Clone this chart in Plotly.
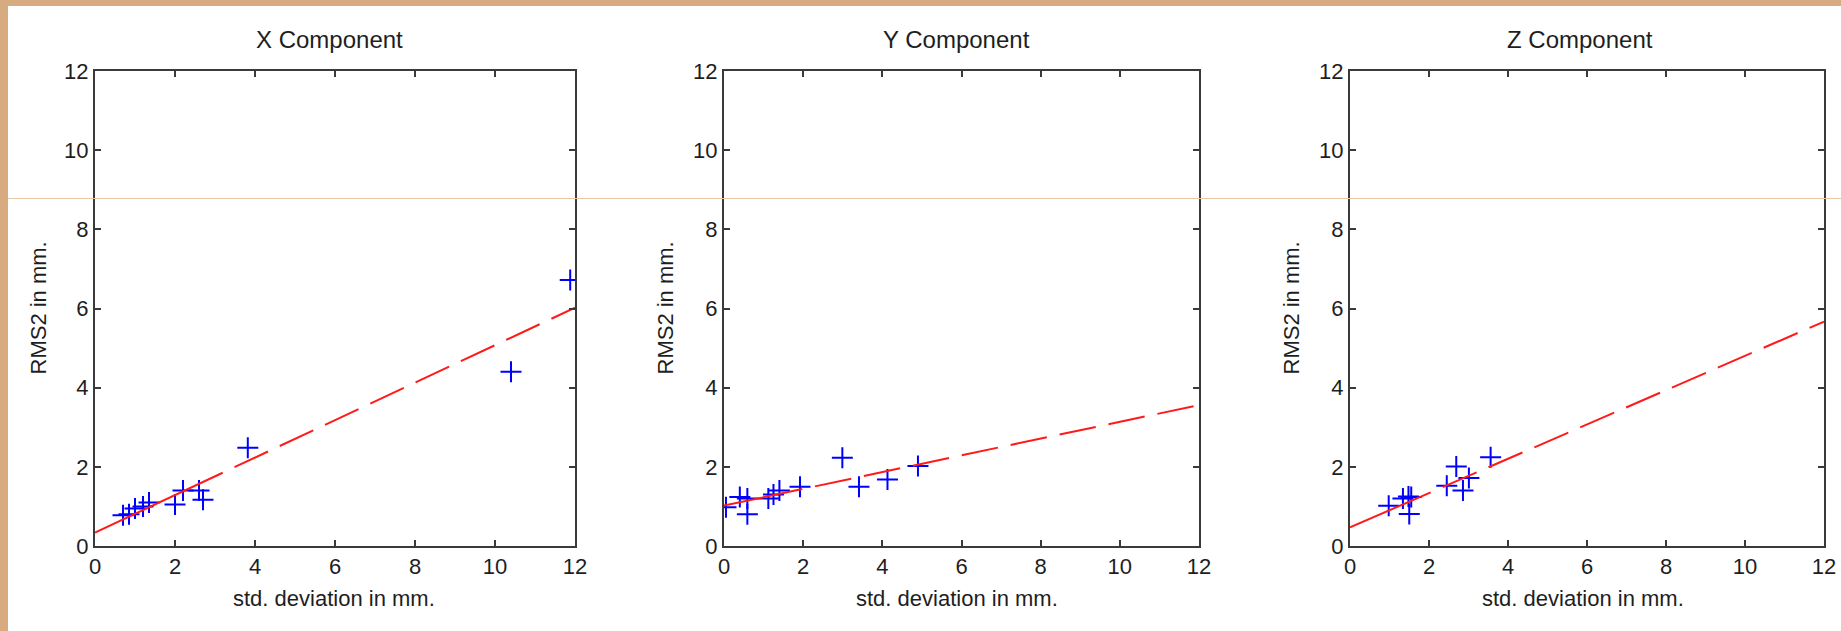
import plotly.graph_objects as go

W, H = 1841, 631

# ---------------- data ----------------
titles = ["X Component", "Y Component", "Z Component"]
x_label = "std. deviation in mm."
y_label = "RMS2 in mm."
tick_vals = [0, 2, 4, 6, 8, 10, 12]

x_std = [0.70, 0.85, 1.00, 1.20, 1.35, 2.00, 2.20, 2.60, 2.70, 3.82, 10.40, 11.88]
x_rms = [0.78, 0.80, 0.95, 1.00, 1.10, 1.05, 1.40, 1.40, 1.17, 2.48, 4.40, 6.72]

y_std = [0.05, 0.40, 0.59, 0.59, 1.12, 1.25, 1.40, 1.92, 2.99, 3.41, 4.13, 4.90]
y_rms = [0.98, 1.24, 1.20, 0.80, 1.20, 1.30, 1.40, 1.50, 2.23, 1.50, 1.68, 2.02]

z_std = [0.98, 1.34, 1.48, 1.55, 1.50, 2.45, 2.69, 2.86, 3.01, 3.56]
z_rms = [1.02, 1.20, 1.25, 1.24, 0.81, 1.52, 2.01, 1.40, 1.72, 2.24]

fit_x = [0, 12]
x_fit = [0.34, 6.02]
y_fit = [1.02, 3.56]
z_fit = [0.47, 5.67]

# ---------------- layout helpers ----------------
def fx(p):
    return p / W

def fy(p):
    return 1 - p / H

panels = [
    dict(l=95, r=575, sx=x_std, sy=x_rms, fit=x_fit, first=141, title_x=329, xt_x=334, yt_x=38),
    dict(l=724, r=1199, sx=y_std, sy=y_rms, fit=y_fit, first=80, title_x=956, xt_x=957, yt_x=665),
    dict(l=1350, r=1824, sx=z_std, sy=z_rms, fit=z_fit, first=88, title_x=1580, xt_x=1583, yt_x=1291),
]
TOP, BOT = 71, 546

FONT = "Liberation Sans, Arial, Helvetica, sans-serif"
TXT = "#1e1e1e"
AX = "#3a3a3a"

def dash_pattern(first, dash=37, gap=13, n=14):
    parts = [f"{first}px", f"{gap}px"]
    for _ in range(n):
        parts += [f"{dash}px", f"{gap}px"]
    return ",".join(parts)

fig = go.Figure()
annotations = []
layout_axes = {}

for i, p in enumerate(panels, start=1):
    sfx = "" if i == 1 else str(i)
    xa, ya = "x" + sfx, "y" + sfx
    fig.add_trace(go.Scatter(
        x=p["sx"], y=p["sy"], mode="markers", xaxis=xa, yaxis=ya,
        marker=dict(symbol="cross-thin", size=15, color="#0000ff",
                    line=dict(width=2, color="#0000ff")),
        showlegend=False, hoverinfo="x+y"))
    fig.add_trace(go.Scatter(
        x=fit_x, y=p["fit"], mode="lines", xaxis=xa, yaxis=ya,
        line=dict(color="#ff1a1a", width=2, dash=dash_pattern(p["first"])),
        showlegend=False, hoverinfo="skip"))

    common = dict(range=[0, 12], tickvals=tick_vals, showgrid=False, zeroline=False,
                  showline=True, linecolor=AX, linewidth=2, mirror="ticks",
                  ticks="inside", ticklen=6, tickwidth=2, tickcolor=AX, automargin=False,
                  tickfont=dict(family=FONT, size=22, color=TXT), fixedrange=True)
    layout_axes["xaxis" + sfx] = dict(common, domain=[fx(p["l"]), fx(p["r"])], anchor=ya)
    layout_axes["yaxis" + sfx] = dict(common, domain=[fy(BOT), fy(TOP)], anchor=xa)

    annotations.append(dict(text=titles[i - 1], x=fx(p["title_x"]), y=fy(39), xref="paper", yref="paper",
                            xanchor="center", yanchor="middle", showarrow=False,
                            font=dict(family=FONT, size=24, color=TXT)))
    annotations.append(dict(text=x_label, x=fx(p["xt_x"]), y=fy(598), xref="paper", yref="paper",
                            xanchor="center", yanchor="middle", showarrow=False,
                            font=dict(family=FONT, size=22, color=TXT)))
    annotations.append(dict(text=y_label, x=fx(p["yt_x"]), y=fy((TOP + BOT) / 2), xref="paper", yref="paper",
                            xanchor="center", yanchor="middle", showarrow=False, textangle=-90,
                            font=dict(family=FONT, size=22, color=TXT)))

TAN = "#d7aa80"
shapes = [
    dict(type="rect", xref="paper", yref="paper", x0=0, x1=fx(8), y0=0, y1=1,
         fillcolor=TAN, line=dict(width=0), layer="above"),
    dict(type="rect", xref="paper", yref="paper", x0=0, x1=1, y0=fy(6), y1=1,
         fillcolor=TAN, line=dict(width=0), layer="above"),
    dict(type="line", xref="paper", yref="paper", x0=fx(8), x1=1, y0=fy(198.5), y1=fy(198.5),
         line=dict(color="#e9c9a3", width=1), layer="above"),
]

fig.update_layout(
    width=W, height=H, autosize=False,
    margin=dict(l=0, r=0, t=0, b=0, pad=0, autoexpand=False),
    paper_bgcolor="white", plot_bgcolor="white",
    font=dict(family=FONT, size=22, color=TXT),
    annotations=annotations, shapes=shapes,
    **layout_axes,
)

fig.write_html(
    "out.html",
    config={"displayModeBar": False},
    post_script=(
        "document.documentElement.style.margin='0';"
        "document.documentElement.style.padding='0';"
        "document.body.style.margin='0';document.body.style.padding='0';"
        "document.body.style.overflow='hidden';"
        "var gd=document.getElementById('{plot_id}');"
        "gd.style.position='fixed';gd.style.left='0px';gd.style.top='0px';"
    ),
)
